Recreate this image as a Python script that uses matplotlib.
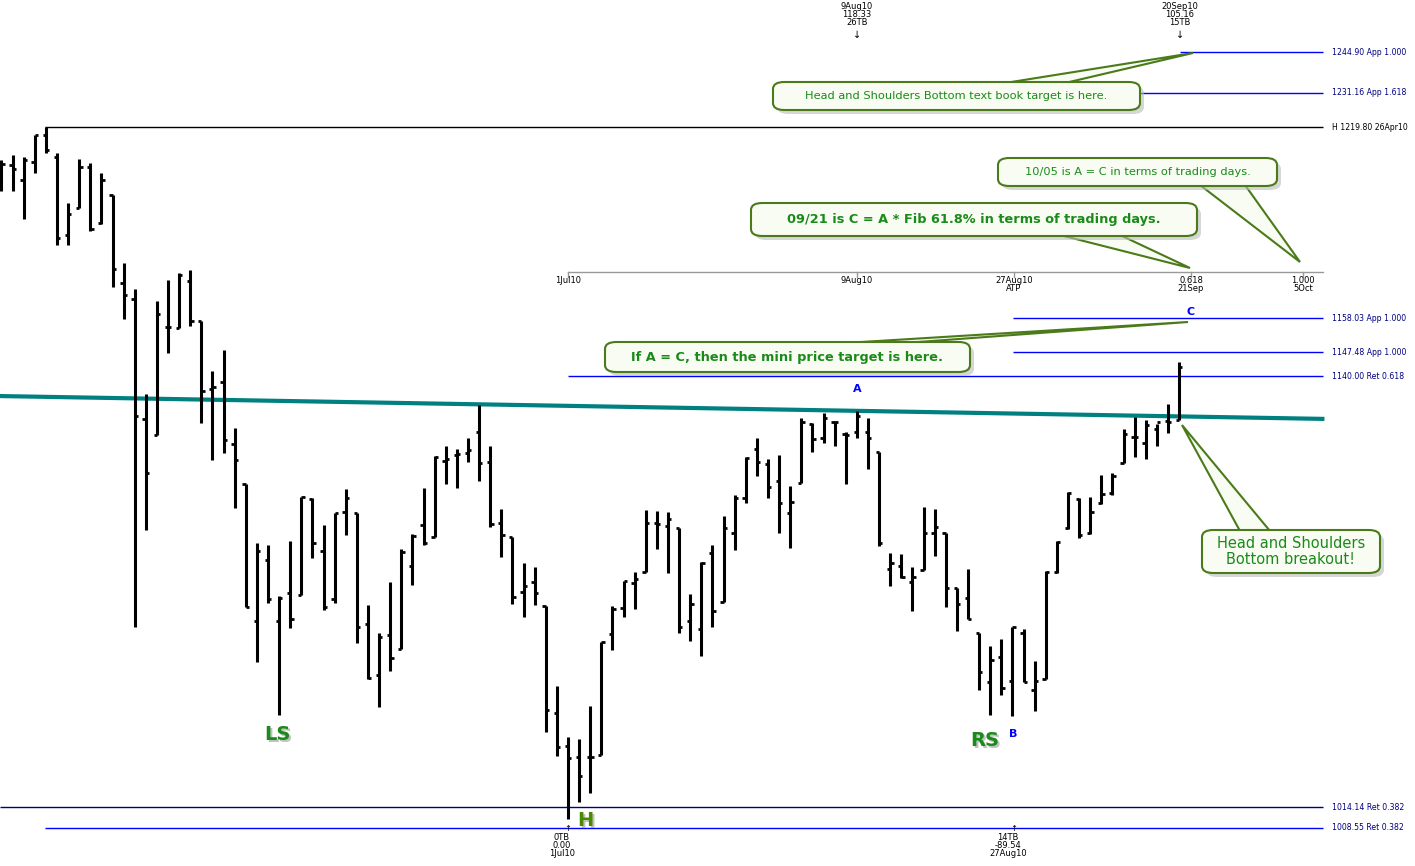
import numpy as np
import matplotlib
matplotlib.use("Agg")
import matplotlib.pyplot as plt
from matplotlib.patches import FancyBboxPatch, Polygon

opens = [1207.0,1207.3,1202.4,1208.3,1217.2,1209.9,1184.6,1193.3,1206.6,1188.5,
 1197.5,1169.3,1164.2,1126.9,1122.1,1155.4,1155.1,1170.0,1157.3,1136.1,
 1138.3,1119.3,1107.2,1066.7,1084.4,1066.7,1075.0,1074.4,1102.7,1087.3,
 1073.2,1098.8,1098.5,1065.9,1051.1,1062.8,1058.7,1082.9,1095.0,1091.4,
 1114.2,1116.0,1116.6,1123.0,1113.9,1095.6,1091.4,1075.3,1078.0,1071.1,
 1040.5,1031.2,1028.1,1028.1,1028.7,1063.0,1070.6,1077.7,1080.9,1095.6,
 1094.7,1094.1,1066.7,1064.5,1086.7,1072.3,1092.6,1103.0,1117.8,1113.3,
 1108.1,1098.5,1107.5,1125.4,1121.2,1126.0,1122.4,1123.0,1123.0,1116.9,
 1082.0,1082.9,1078.0,1081.5,1092.6,1092.6,1076.2,1073.5,1063.3,1049.1,
 1056.4,1049.4,1063.3,1047.0,1050.0,1080.9,1094.1,1102.7,1092.6,1101.5,
 1104.5,1113.6,1121.5,1119.6,1123.9,1126.3,1126.6]
highs = [1208.9,1210.6,1209.9,1217.2,1219.8,1211.2,1194.9,1209.3,1207.9,1204.7,
 1197.5,1175.7,1167.4,1134.6,1163.6,1170.3,1172.5,1173.4,1157.3,1141.7,
 1148.2,1124.2,1107.2,1089.7,1089.1,1074.1,1090.3,1103.3,1103.0,1095.0,
 1098.5,1105.7,1098.5,1071.4,1063.3,1078.0,1087.9,1092.3,1106.0,1115.7,
 1118.7,1117.8,1121.2,1131.2,1118.7,1099.7,1091.4,1083.8,1082.6,1071.1,
 1048.2,1033.8,1033.0,1042.5,1060.7,1071.1,1078.3,1080.9,1099.4,1099.1,
 1098.8,1094.1,1074.7,1084.1,1089.1,1097.6,1103.9,1115.4,1121.2,1114.8,
 1116.0,1106.6,1127.2,1125.7,1128.7,1126.3,1123.0,1129.3,1127.2,1116.9,
 1086.7,1086.4,1082.6,1100.3,1099.7,1092.6,1076.2,1082.0,1063.3,1059.6,
 1061.6,1065.1,1064.5,1055.2,1081.2,1090.3,1104.8,1103.0,1103.3,1109.9,
 1110.6,1123.9,1127.5,1126.6,1125.4,1131.5,1144.5]
lows = [1198.8,1198.8,1189.8,1204.7,1211.2,1181.4,1181.4,1193.3,1185.9,1188.2,
 1168.0,1157.9,1065.1,1093.5,1122.1,1147.3,1155.1,1155.7,1125.7,1114.5,
 1116.6,1100.0,1070.9,1055.0,1072.0,1040.0,1064.8,1074.4,1085.0,1070.0,
 1072.0,1092.0,1060.4,1050.0,1042.2,1052.3,1058.7,1077.1,1089.1,1091.4,
 1107.2,1106.0,1113.9,1108.1,1094.4,1085.5,1071.7,1067.9,1071.4,1035.2,
 1028.4,1011.0,1015.6,1018.1,1028.7,1058.4,1067.9,1070.3,1080.9,1087.9,
 1080.6,1063.3,1061.0,1056.7,1065.1,1072.3,1087.6,1101.5,1109.6,1103.0,
 1092.6,1088.2,1107.5,1116.9,1119.6,1118.7,1107.2,1121.2,1111.8,1088.8,
 1076.8,1079.2,1069.7,1081.5,1085.8,1070.9,1063.9,1067.3,1046.8,1040.0,
 1045.6,1039.7,1049.1,1041.1,1050.0,1080.6,1093.8,1091.1,1092.3,1101.2,
 1103.9,1113.6,1115.4,1114.8,1118.7,1122.7,1126.6]
closes = [1207.6,1206.0,1208.9,1217.2,1212.2,1183.7,1191.4,1206.6,1186.5,1202.4,
 1173.8,1165.5,1127.8,1110.6,1159.5,1155.4,1171.8,1157.3,1135.5,1136.7,
 1120.5,1114.5,1070.9,1087.3,1073.2,1073.5,1067.3,1103.3,1089.7,1070.9,
 1098.5,1103.0,1065.1,1050.5,1062.2,1056.0,1087.0,1091.7,1089.7,1115.4,
 1114.8,1116.3,1117.5,1113.6,1095.3,1092.0,1073.8,1076.8,1075.0,1041.4,
 1030.9,1027.9,1022.7,1028.1,1060.7,1070.3,1078.3,1078.9,1095.6,1095.3,
 1096.8,1065.1,1071.7,1083.8,1069.7,1094.1,1103.0,1115.1,1113.9,1106.3,
 1101.5,1101.8,1126.0,1120.8,1127.2,1126.0,1122.1,1127.8,1121.2,1089.7,
 1083.8,1079.5,1079.5,1092.6,1094.4,1076.2,1071.7,1067.3,1052.0,1055.4,
 1047.6,1065.1,1049.1,1049.4,1080.9,1090.0,1104.5,1092.0,1098.8,1104.2,
 1109.6,1122.4,1121.5,1125.1,1126.0,1126.0,1143.0]

neck_idx = [-0.13, 118.9]
neck_val = [1133.9, 1126.9]

W, H = 1415, 866
fig = plt.figure(figsize=(W/100, H/100), dpi=100)
ax = fig.add_axes([0, 0, 1, 1])
ax.set_yscale('log')
ax.set_ylim(998.1, 1262.6)
X0, DX = 1.4, 11.11
ax.set_xlim(-X0/DX, (W - X0)/DX)
ax.axis('off')

def ix(px):
    return (px - X0) / DX

def fy(py):
    return 1 - py / H

idx = np.arange(len(opens))
ax.vlines(idx, lows, highs, color='black', lw=2.2, zorder=3)
ax.hlines(opens, idx - 0.3, idx, color='black', lw=2, zorder=3)
ax.hlines(closes, idx, idx + 0.3, color='black', lw=2, zorder=3)

ax.plot(neck_idx, neck_val, color='#008080', lw=3, zorder=2)

levels = [(1244.90, 1180, '#0000ff', '1244.90 App 1.000'),
          (1231.16, 1140, '#0000ff', '1231.16 App 1.618'),
          (1219.80, 45, 'black', 'H 1219.80 26Apr10'),
          (1158.03, 1013, '#0000ff', '1158.03 App 1.000'),
          (1147.48, 1013, '#0000ff', '1147.48 App 1.000'),
          (1140.00, 568, '#0000ff', '1140.00 Ret 0.618'),
          (1014.14, 0, '#000080', '1014.14 Ret 0.382'),
          (1008.55, 45, '#0000ff', '1008.55 Ret 0.382')]
for val, x0, col, lab in levels:
    ax.hlines(val, ix(x0), ix(1323), color=col, lw=1, zorder=1)
    tc = 'black' if col == 'black' else '#000080'
    ax.text(ix(1332), val, lab, fontsize=5.6, color=tc, va='center', ha='left',
            family='Liberation Sans Narrow' if False else 'DejaVu Sans')

yt = fy(272)
fig.add_artist(plt.Line2D([568/W, 1323/W], [yt, yt], color='#999999', lw=1))
for px, lab in [(568, '1Jul10'), (857, '9Aug10'), (1014, '27Aug10\nATP'),
                (1191, '0.618\n21Sep'), (1303, '1.000\n5Oct')]:
    fig.add_artist(plt.Line2D([px/W, px/W], [yt, fy(277)], color='#999999', lw=1))
    fig.text(px/W, fy(276), lab, fontsize=6, ha='center', va='top', linespacing=0.85)

for px, lab in [(857, '9Aug10\n118.33\n26TB'), (1180, '20Sep10\n105.16\n15TB')]:
    fig.text(px/W, fy(2), lab, fontsize=6, ha='center', va='top', linespacing=0.85)
    fig.text(px/W, fy(30), '↓', fontsize=7, ha='center', va='top')
for px, lab in [(562, '0TB\n0.00\n1Jul10'), (1008, '14TB\n-89.54\n27Aug10')]:
    fig.text(px/W, fy(833), lab, fontsize=6, ha='center', va='top', linespacing=0.85)
    fig.text((px+6)/W, fy(833), '↑', fontsize=6, ha='center', va='bottom')

green = '#1a8a1a'
for px, py, lab, c in [(277, 734, 'LS', green), (585, 820, 'H', '#4a8a00'), (985, 741, 'RS', green)]:
    fig.text((px+2)/W, fy(py+2), lab, fontsize=14, fontweight='bold', color='#999999',
             ha='center', va='center', alpha=0.6)
    fig.text(px/W, fy(py), lab, fontsize=14, fontweight='bold', color=c,
             ha='center', va='center')
for px, py, lab in [(1013, 734, 'B'), (857, 389, 'A'), (1191, 312, 'C')]:
    fig.text(px/W, fy(py), lab, fontsize=8, fontweight='bold', color='#0000ff',
             ha='center', va='center')

edge = '#4a7a1a'
fill = '#f8fcf2'
def callout(x0, y0, x1, y1, text, base, tip, size=8.5, bold=False):
    bx = [(base[0][0]) / W, (base[1][0]) / W, tip[0] / W]
    by = [fy(base[0][1]), fy(base[1][1]), fy(tip[1])]
    fig.add_artist(Polygon(list(zip(bx, by)), closed=True, facecolor=fill,
                           edgecolor=edge, lw=1.5, zorder=5))
    sh = FancyBboxPatch(((x0+4)/W, fy(y1+4)), (x1-x0)/W, (y1-y0)/H,
                        boxstyle='round,pad=0,rounding_size=0.008',
                        facecolor='#bbbbbb', edgecolor='none', alpha=0.6, zorder=5)
    fig.add_artist(sh)
    bb = FancyBboxPatch((x0/W, fy(y1)), (x1-x0)/W, (y1-y0)/H,
                        boxstyle='round,pad=0,rounding_size=0.008',
                        facecolor=fill, edgecolor=edge, lw=1.5, zorder=6)
    fig.add_artist(bb)
    fig.text((x0+x1)/2/W, fy((y0+y1)/2), text, fontsize=size, color=green,
             fontweight='bold' if bold else 'normal', ha='center', va='center',
             zorder=7, linespacing=1.0)

callout(773, 82, 1140, 110, 'Head and Shoulders Bottom text book target is here.',
        [(1005, 83), (1065, 83)], (1193, 53), size=8.2)
callout(998, 158, 1277, 186, '10/05 is A = C in terms of trading days.',
        [(1200, 185), (1245, 185)], (1300, 262), size=8.2)
callout(751, 203, 1197, 236, '09/21 is C = A * Fib 61.8% in terms of trading days.',
        [(1060, 235), (1120, 235)], (1190, 268), size=9.3, bold=True)
callout(605, 342, 970, 372, 'If A = C, then the mini price target is here.',
        [(845, 343), (905, 343)], (1188, 322), size=9.3, bold=True)
callout(1202, 530, 1380, 573, 'Head and Shoulders\nBottom breakout!',
        [(1240, 531), (1270, 531)], (1182, 425), size=10.5)

fig.savefig('out.png', dpi=100, facecolor='white')
